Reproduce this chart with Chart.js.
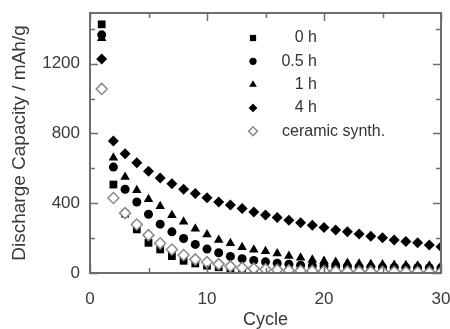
<!DOCTYPE html>
<html>
<head>
<meta charset="utf-8">
<script src="https://cdn.jsdelivr.net/npm/chart.js@4/dist/chart.umd.min.js"></script>
<style>
  html, body { margin: 0; padding: 0; background: #fff; }
  #wrap { width: 450px; height: 329px; }
</style>
</head>
<body>
<div id="wrap"><canvas id="capChart"></canvas></div>
<script>
        // Discharge capacity (mAh/g) vs cycle number
        const cycles = [1, 2, 3, 4, 5, 6, 7, 8, 9, 10, 11, 12, 13, 14, 15,
                        16, 17, 18, 19, 20, 21, 22, 23, 24, 25, 26, 27, 28, 29, 30];

        const labels = ['0 h', '0.5 h', '1 h', '4 h', 'ceramic synth.'];

        const cap0h = [1425, 507, 340, 250, 173, 135, 97, 70, 55, 42, 33, 27, 22, 18, 15,
                       13, 11, 10, 9, 8, 7, 6, 6, 5, 5, 5, 4, 4, 4, 4];
        const cap05h = [1365, 607, 480, 407, 337, 280, 236, 198, 164, 137, 116, 95, 82, 72, 64,
                        56, 50, 45, 42, 40, 38, 36, 35, 34, 33, 32, 31, 30, 30, 29];
        const cap1h = [1345, 661, 550, 474, 423, 383, 331, 293, 253, 220, 189, 170, 148, 133, 125,
                       112, 97, 88, 76, 69, 63, 57, 53, 50, 48, 46, 44, 42, 41, 40];
        const cap4h = [1227, 756, 684, 632, 583, 545, 512, 480, 455, 431, 407, 389, 370, 350, 333,
                       318, 303, 288, 274, 261, 247, 236, 223, 211, 202, 189, 181, 173, 160, 150];
        const capCeramic = [1055, 430, 343, 278, 217, 170, 135, 103, 78, 62, 51, 38, 30, 25, 21,
                            18, 15, 13, 12, 11, 10, 9, 8, 8, 7, 7, 6, 6, 5, 5];

        const yTicks = [0, 400, 800, 1200];
        const xTicks = [0, 10, 20, 30];

        function pts(values) {
            return cycles.map((c, i) => ({ x: c, y: values[i] }));
        }

        const styles = [
            { pointStyle: 'rect', radius: 5.5, bg: '#000', border: '#000', bw: 0 },
            { pointStyle: 'circle', radius: 4.5, bg: '#000', border: '#000', bw: 0 },
            { pointStyle: 'triangle', radius: 5.5, bg: '#000', border: '#000', bw: 0 },
            { pointStyle: 'rectRot', radius: 5.5, bg: '#000', border: '#000', bw: 0 },
            { pointStyle: 'rectRot', radius: 5.5, bg: '#fff', border: '#8a8a8a', bw: 1.5 }
        ];
        const series = [cap0h, cap05h, cap1h, cap4h, capCeramic];

        const datasets = series.map((vals, i) => ({
            label: labels[i],
            data: pts(vals),
            showLine: false,
            pointStyle: styles[i].pointStyle,
            pointRadius: styles[i].radius,
            pointHoverRadius: styles[i].radius,
            backgroundColor: styles[i].bg,
            borderColor: styles[i].border,
            pointBorderWidth: styles[i].bw,
            order: i === 4 ? 0 : i + 1
        }));

        // frame with inward ticks (major + minor), like the original plot
        const framePlugin = {
            id: 'frame',
            afterDraw(chart) {
                const ctx = chart.ctx;
                const a = chart.chartArea;
                const xs = chart.scales.x, ys = chart.scales.y;
                ctx.save();
                ctx.strokeStyle = '#6e6e6e';
                ctx.lineWidth = 2;
                ctx.strokeRect(a.left, a.top, a.right - a.left, a.bottom - a.top);
                ctx.lineWidth = 1.5;
                ctx.beginPath();
                for (let v = 0; v <= 1400; v += 200) {
                    const y = Math.round(ys.getPixelForValue(v)) + 0.5;
                    const len = v % 400 === 0 ? 8 : 5;
                    ctx.moveTo(a.left, y); ctx.lineTo(a.left + len, y);
                    ctx.moveTo(a.right, y); ctx.lineTo(a.right - len, y);
                }
                for (let v = 0; v <= 30; v += 5) {
                    const x = Math.round(xs.getPixelForValue(v)) + 0.5;
                    const len = v % 10 === 0 ? 8 : 5;
                    ctx.moveTo(x, a.bottom); ctx.lineTo(x, a.bottom - len);
                    ctx.moveTo(x, a.top); ctx.lineTo(x, a.top + len);
                }
                ctx.stroke();
                ctx.restore();
            }
        };

        // legend drawn inside the plot area
        const legendPlugin = {
            id: 'innerLegend',
            afterDatasetsDraw(chart) {
                const ctx = chart.ctx;
                const a = chart.chartArea;
                const mx = a.left + 163;
                ctx.save();
                ctx.font = '16px "Liberation Sans", Arial, sans-serif';
                ctx.textBaseline = 'middle';
                chart.data.datasets.forEach((ds, i) => {
                    const y = a.top + 25 + i * 23.3;
                    ctx.fillStyle = ds.backgroundColor;
                    ctx.strokeStyle = ds.borderColor;
                    ctx.lineWidth = ds.pointBorderWidth;
                    Chart.helpers.drawPoint(ctx, {
                        pointStyle: ds.pointStyle,
                        radius: ds.pointRadius * 0.8,
                        rotation: 0,
                        borderWidth: ds.pointBorderWidth
                    }, mx, y);
                    ctx.fillStyle = '#333';
                    const w = ctx.measureText(ds.label).width;
                    if (w > 50) {
                        ctx.textAlign = 'left';
                        ctx.fillText(ds.label, mx + 29, y);
                    } else {
                        ctx.textAlign = 'right';
                        ctx.fillText(ds.label, mx + 64, y);
                    }
                });
                ctx.restore();
            }
        };

        const tickFont = { family: '"Liberation Sans", Arial, sans-serif', size: 17 };

        new Chart(document.getElementById('capChart'), {
            type: 'scatter',
            data: { datasets: datasets },
            plugins: [framePlugin, legendPlugin],
            options: {
                responsive: true,
                maintainAspectRatio: false,
                animation: false,
                layout: { padding: { top: 13, right: 9, left: 0, bottom: 0 } },
                plugins: {
                    legend: { display: false },
                    tooltip: { enabled: false }
                },
                scales: {
                    x: {
                        type: 'linear',
                        min: 0,
                        max: 30,
                        afterFit: (s) => { s.height = 56; s.paddingLeft = 0; s.paddingRight = 0; },
                        grid: { display: false, drawTicks: false },
                        border: { display: false },
                        afterBuildTicks: (s) => { s.ticks = xTicks.map(v => ({ value: v })); },
                        ticks: {
                            padding: 16,
                            color: '#3a3a3a',
                            font: tickFont,
                            callback: (v) => String(v)
                        },
                        title: {
                            display: true,
                            text: 'Cycle',
                            color: '#3a3a3a',
                            padding: { top: 0, bottom: 0 },
                            font: { family: '"Liberation Sans", Arial, sans-serif', size: 18, lineHeight: 1 }
                        }
                    },
                    y: {
                        min: 0,
                        max: 1490,
                        afterFit: (s) => { s.width = 90; s.paddingTop = 0; s.paddingBottom = 0; },
                        grid: { display: false, drawTicks: false },
                        border: { display: false },
                        afterBuildTicks: (s) => { s.ticks = yTicks.map(v => ({ value: v })); },
                        ticks: {
                            padding: 10,
                            color: '#3a3a3a',
                            font: tickFont,
                            callback: (v) => String(v)
                        },
                        title: {
                            display: true,
                            text: 'Discharge Capacity / mAh/g',
                            color: '#3a3a3a',
                            padding: { top: 8, bottom: 0 },
                            font: { family: '"Liberation Sans", Arial, sans-serif', size: 19, lineHeight: 1.2 }
                        }
                    }
                }
            }
        });
</script>
</body>
</html>
